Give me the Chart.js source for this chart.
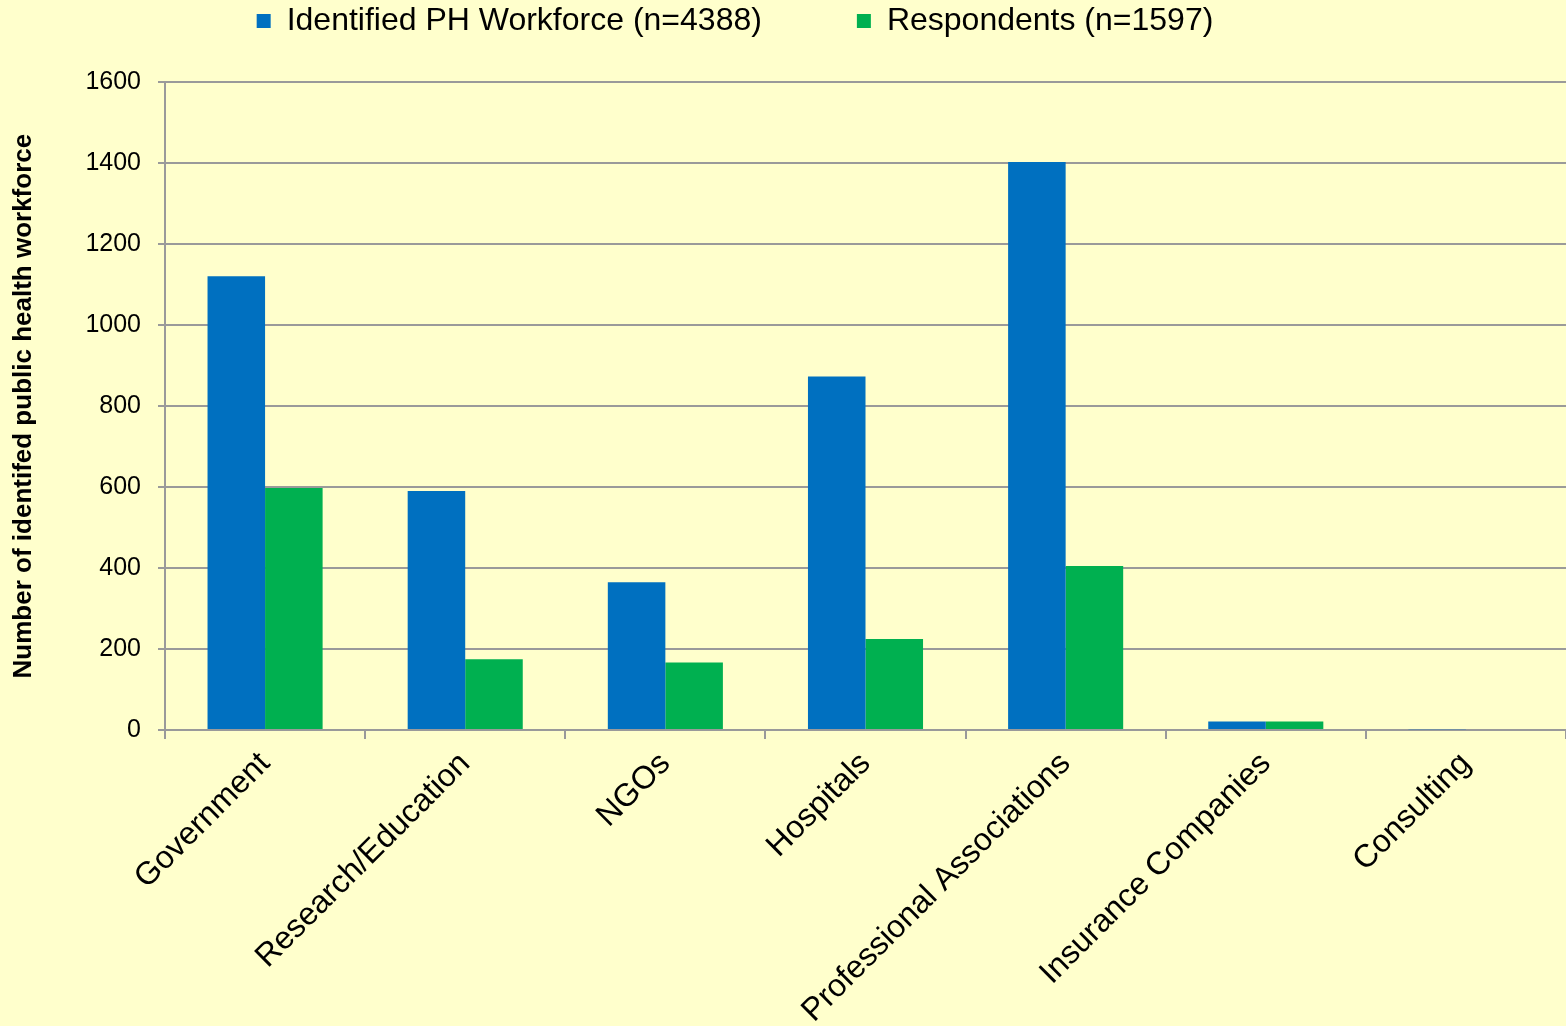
<!DOCTYPE html>
<html lang="en">
<head>
    <meta charset="UTF-8" />
    <title>Public health workforce by sector</title>
    <script src="https://cdn.jsdelivr.net/npm/chart.js"></script>
    <style>
        html, body { margin: 0; padding: 0; background: #ffffcc; }
        #wrap { width: 1566px; height: 1026px; }
    </style>
</head>
<body>
<div id="wrap"><canvas id="sectorChart"></canvas></div>

<script>
    const sectors = ['Government', 'Research/Education', 'NGOs', 'Hospitals',
                     'Professional Associations', 'Insurance Companies', 'Consulting'];
    const workforce = [1121, 590, 365, 873, 1403, 21, 2];
    const respondents = [598, 175, 167, 225, 405, 21, 0];
    const yTicks = [0, 200, 400, 600, 800, 1000, 1200, 1400, 1600];

    const gridGray = '#9a9a9a';
    const FONT = 'Arial, "Liberation Sans", sans-serif';

    // legend sits a bit left of the page centre in the original
    const shiftLegend = {
        id: 'shiftLegend',
        afterLayout(chart) {
            chart.legend.left -= 48;
            chart.legend.right -= 48;
        }
    };

    const ctx = document.getElementById('sectorChart').getContext('2d');
    new Chart(ctx, {
        type: 'bar',
        data: {
            labels: sectors,
            datasets: [{
                label: 'Identified PH Workforce (n=4388)',
                data: workforce,
                backgroundColor: '#0070c0'
            }, {
                label: 'Respondents (n=1597)',
                data: respondents,
                backgroundColor: '#00b050'
            }]
        },
        options: {
            responsive: true,
            maintainAspectRatio: false,
            animation: false,
            // legend padding is big (for the gap between items), so pull it up
            layout: { padding: { top: -90, right: 0, left: 0, bottom: 0 } },
            datasets: {
                bar: { barPercentage: 1, categoryPercentage: 0.575 }
            },
            plugins: {
                legend: {
                    position: 'top',
                    labels: {
                        boxWidth: 14,
                        boxHeight: 14,
                        padding: 95,
                        color: '#000',
                        font: { family: FONT, size: 32 }
                    }
                },
                // empty spacer between legend and plot
                subtitle: {
                    display: true,
                    text: '',
                    weight: 500,
                    font: { size: 1 },
                    padding: { top: 0, bottom: 34 }
                },
                tooltip: { enabled: false }
            },
            scales: {
                x: {
                    grid: {
                        display: true,
                        drawOnChartArea: false,
                        color: gridGray,
                        lineWidth: 2,
                        tickLength: 9
                    },
                    border: { color: gridGray, width: 2 },
                    ticks: {
                        color: '#000',
                        maxRotation: 45,
                        minRotation: 45,
                        padding: 6,
                        font: { family: FONT, size: 32 }
                    },
                    afterFit(scale) { scale.height = 296; }
                },
                y: {
                    min: 0,
                    max: 1600,
                    afterBuildTicks(scale) {
                        scale.ticks = yTicks.map(v => ({ value: v }));
                    },
                    grid: {
                        color: gridGray,
                        lineWidth: 2,
                        tickLength: 7
                    },
                    border: { color: gridGray, width: 2 },
                    ticks: {
                        color: '#000',
                        padding: 17,
                        font: { family: FONT, size: 25 },
                        callback: v => String(v)
                    },
                    title: {
                        display: true,
                        text: 'Number of identifed public health workforce',
                        color: '#000',
                        padding: { top: 8, bottom: 0 },
                        font: { family: FONT, size: 26, weight: 'bold' }
                    },
                    afterFit(scale) { scale.width = 165; }
                }
            }
        },
        plugins: [shiftLegend]
    });
</script>
</body>
</html>
